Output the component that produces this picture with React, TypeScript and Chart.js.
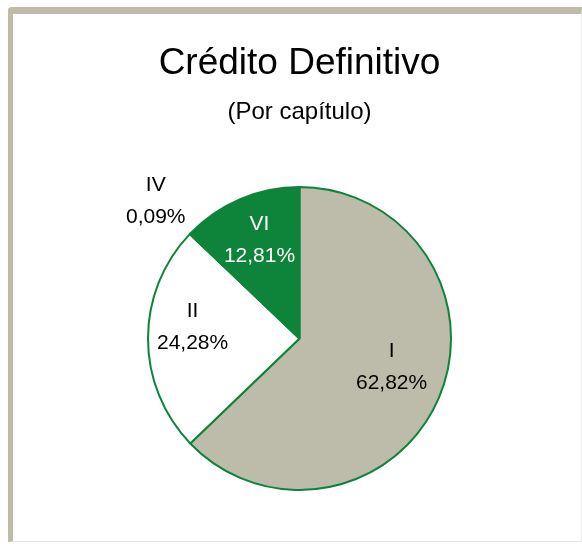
import React, { useEffect, useRef } from "react";
import { Chart, registerables } from "chart.js";

Chart.register(...registerables);

const categories = ["I", "II", "IV", "VI"];
const shares = [62.82, 24.28, 0.09, 12.81];
const sliceColors = ["#BDBCAA", "#FFFFFF", "#FFFFFF", "#0E843A"];
const labelColors = ["#000000", "#000000", "#000000", "#FFFFFF"];
// label placement: radial factor (of radius) and angular nudge (degrees, clockwise)
const labelRadial = [0.636, 0.71, 1.313, 0.703];
const labelNudge = [-6, 6.4, 0, 1];

const FONT = "'Liberation Sans', Arial, sans-serif";

const pieLabels = {
  id: "pieLabels",
  afterDatasetsDraw(chart: any) {
    const ctx = chart.ctx;
    const meta = chart.getDatasetMeta(0);
    ctx.save();
    ctx.font = `21px ${FONT}`;
    ctx.textAlign = "center";
    ctx.textBaseline = "middle";
    meta.data.forEach((arc: any, i: number) => {
      const mid = (arc.startAngle + arc.endAngle) / 2 + (labelNudge[i] * Math.PI) / 180;
      const d = arc.outerRadius * labelRadial[i];
      const x = arc.x + Math.cos(mid) * d;
      const y = arc.y + Math.sin(mid) * d;
      ctx.fillStyle = labelColors[i];
      ctx.fillText(categories[i], x, y - 16);
      ctx.fillText(shares[i].toFixed(2).replace(".", ",") + "%", x, y + 16);
    });
    ctx.restore();
  },
};

export default function App() {
  const ref = useRef<HTMLCanvasElement>(null);
  useEffect(() => {
    if (!ref.current) return;
    const chart = new Chart(ref.current, {
      type: "pie",
      data: {
        labels: categories,
        datasets: [
          {
            data: shares,
            backgroundColor: sliceColors,
            borderColor: "#0E843A",
            borderWidth: 2,
          },
        ],
      },
      options: {
        responsive: false,
        animation: false,
        layout: { padding: { left: 147, right: 130, top: 0, bottom: 53 } },
        plugins: {
          legend: { display: false },
          tooltip: { enabled: false },
          title: {
            display: true,
            text: "Crédito Definitivo",
            color: "#000",
            font: { family: FONT, size: 37, weight: "normal" },
            padding: { top: 41.5, bottom: 0 },
          },
          subtitle: {
            display: true,
            text: "(Por capítulo)",
            color: "#000",
            font: { family: FONT, size: 24, weight: "normal" },
            padding: { top: 12.1, bottom: 59.2 },
          },
        },
      },
      plugins: [pieLabels],
    });
    return () => chart.destroy();
  }, []);

  return (
    <>
      <div
        style={{
          position: "absolute",
          left: 8,
          top: 7,
          width: 574,
          height: 535,
          boxSizing: "border-box",
          background: "#fff",
          borderTop: "7px solid #BEBCA9",
          borderLeft: "5px solid #BEBCA9",
          borderRight: "1px solid #ececec",
          borderBottom: "1px solid #e4e4e4",
          borderTopLeftRadius: 4,
        }}
      />
      <canvas
        ref={ref}
        width={582}
        height={544}
        style={{ position: "absolute", left: 0, top: 0, width: 582, height: 544 }}
      />
    </>
  );
}
